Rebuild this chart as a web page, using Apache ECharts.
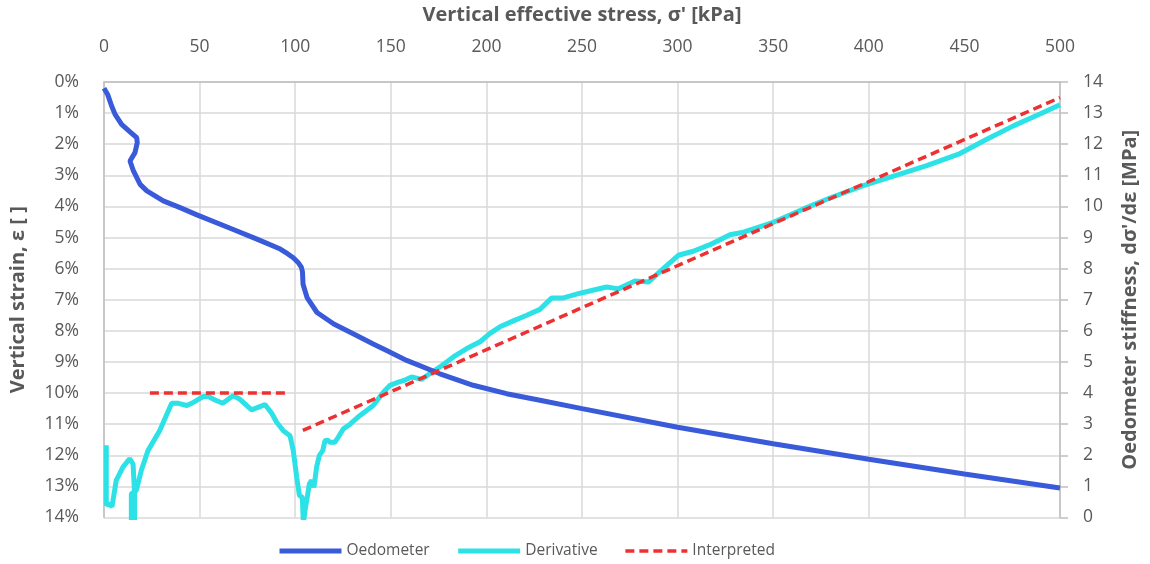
<!DOCTYPE html>
<html>
<head>
<meta charset="utf-8">
<script src="https://cdn.jsdelivr.net/npm/echarts@6/dist/echarts.min.js"></script>
<style>
  html, body { margin: 0; padding: 0; background: #ffffff; }
  #chart { width: 1150px; height: 564px; }
</style>
</head>
<body>
<div id="chart"></div>
<script>
// Oedometer test: strain (%) against vertical effective stress (kPa)
const oedometer = [
  [0, 0.2], [1.9, 0.4], [4.0, 0.77], [5.8, 1.04], [9.2, 1.36], [13.6, 1.6],
  [17.1, 1.79], [17.4, 1.95], [16.2, 2.27], [13.6, 2.54], [15.4, 2.86],
  [18.9, 3.29], [22.4, 3.5], [31, 3.82], [39.8, 4.04], [48.6, 4.27], [66, 4.7],
  [80, 5.05], [92.2, 5.37], [96, 5.52], [99, 5.65], [101.5, 5.8], [103.2, 5.95],
  [103.8, 6.1], [104.1, 6.5], [106.2, 6.93], [111.4, 7.41], [120.2, 7.78],
  [130.6, 8.1], [140.8, 8.42], [148.1, 8.64], [158.3, 8.95], [175.7, 9.38],
  [193.1, 9.75], [210.6, 10.02], [228, 10.23], [250, 10.5], [300, 11.1],
  [350, 11.63], [400, 12.13], [450, 12.6], [500, 13.05]
];

// Tangent stiffness dσ'/dε (MPa) against stress (kPa)
const derivative = [
  [1.2, 2.32], [1.2, 0.39], [2.4, 0.44], [4.2, 0.35], [6.4, 1.19], [9.9, 1.62],
  [13.4, 1.89], [15.2, 1.72], [16.0, 0.76], [16.0, -0.5], [14.3, -0.5],
  [14.3, 0.76], [16.9, 0.87], [19.5, 1.51], [23.0, 2.15], [29.1, 2.79],
  [35.4, 3.67], [38.9, 3.67], [43.3, 3.6], [46.7, 3.7], [51.9, 3.89],
  [54.5, 3.89], [58.1, 3.78], [62.1, 3.67], [67.6, 3.92], [71.1, 3.8],
  [77.2, 3.46], [84.2, 3.63], [87.7, 3.35], [90.3, 3.06], [93.8, 2.79],
  [97.3, 2.63], [99.0, 2.15], [100.8, 1.29], [102.2, 0.71], [103.7, 0.65],
  [104.3, -0.2], [105.1, 0.22], [106.3, 0.65], [107.4, 1.08], [108.6, 1.19],
  [109.8, 0.97], [111.2, 1.62], [112.6, 1.99], [114.4, 2.15], [115.6, 2.47],
  [116.8, 2.49], [118.2, 2.42], [120.8, 2.42], [122.5, 2.58], [125.2, 2.85],
  [128.7, 3.0], [133.9, 3.28], [140.8, 3.6], [146.1, 4.03], [149.6, 4.25],
  [153.9, 4.35], [157.4, 4.42], [160.9, 4.52], [166.1, 4.44], [170.5, 4.63],
  [175.7, 4.84], [182.7, 5.16], [189.7, 5.43], [196.7, 5.65], [201.9, 5.92],
  [207.1, 6.13], [214.1, 6.32], [221.1, 6.5], [228, 6.69], [234.2, 7.06],
  [240.3, 7.06], [249, 7.21], [262.9, 7.41], [269, 7.35], [277.7, 7.6],
  [284.7, 7.57], [292.5, 8.0], [300.4, 8.43], [308.2, 8.56], [316.9, 8.77],
  [327.4, 9.09], [334.4, 9.17], [350.1, 9.49], [365.8, 9.92], [379.7, 10.27],
  [397.1, 10.67], [416.3, 11.04], [430.3, 11.31], [447.7, 11.7],
  [461.7, 12.16], [475.6, 12.59], [489.5, 12.97], [500, 13.27]
];

// Interpreted stiffness: constant below yield, linear above
const interpretedLow = [[24, 4.0], [97, 4.0]];
const interpretedHigh = [[104, 2.8], [500, 13.5]];

const stressTicks = { min: 0, max: 500, step: 50 };
const strainTicks = { min: 0, max: 14, step: 1 };
const stiffnessTicks = { min: 0, max: 14, step: 1 };

const FONT = '"Open Sans", "Noto Sans", sans-serif';
const TEXT = '#595959';
const GRID = '#d9d9d9';
const AXIS = '#bfbfbf';
const BLUE = '#3a5bd9';
const CYAN = '#2de2e6';
const RED = '#ee3030';
const DASH = [9, 5];

const titleStyle = { fontFamily: FONT, fontSize: 20, fontWeight: 'bold', color: TEXT };
const tickStyle = { fontSize: 17.5, color: TEXT, fontFamily: FONT };

const chart = echarts.init(document.getElementById('chart'), null, { renderer: 'canvas' });

chart.setOption({
  animation: false,
  backgroundColor: '#ffffff',
  textStyle: { fontFamily: FONT, color: TEXT },
  grid: { left: 104, right: 90, top: 81, bottom: 46.5, containLabel: false },
  legend: {
    left: 272,
    top: 538,
    itemWidth: 62,
    itemHeight: 14,
    itemGap: 26,
    itemStyle: { opacity: 0 },
    lineStyle: { width: 'inherit' },
    textStyle: { fontFamily: FONT, fontSize: 15.5, color: TEXT },
    data: ['Oedometer', 'Derivative', 'Interpreted']
  },
  xAxis: {
    type: 'value',
    position: 'top',
    min: stressTicks.min,
    max: stressTicks.max,
    interval: stressTicks.step,
    name: "Vertical effective stress, σ' [kPa]",
    nameLocation: 'middle',
    nameGap: 57,
    nameTextStyle: titleStyle,
    axisLine: { show: true, lineStyle: { color: AXIS, width: 1.5 } },
    axisTick: { show: false },
    axisLabel: Object.assign({ margin: 26 }, tickStyle),
    splitLine: { show: true, lineStyle: { color: GRID, width: 1.5 } }
  },
  yAxis: [
    {
      type: 'value',
      position: 'left',
      inverse: true,
      min: strainTicks.min,
      max: strainTicks.max,
      interval: strainTicks.step,
      name: 'Vertical strain, ε [ ]',
      nameLocation: 'middle',
      nameGap: 76,
      nameTextStyle: titleStyle,
      axisLine: { show: true, lineStyle: { color: AXIS, width: 1.5 } },
      axisTick: { show: false },
      axisLabel: Object.assign({ margin: 25, formatter: '{value}%' }, tickStyle),
      splitLine: { show: true, lineStyle: { color: GRID, width: 1.5 } }
    },
    {
      type: 'value',
      position: 'right',
      min: stiffnessTicks.min,
      max: stiffnessTicks.max,
      interval: stiffnessTicks.step,
      name: "Oedometer stiffness, dσ'/dε [MPa]",
      nameLocation: 'middle',
      nameGap: 60,
      nameTextStyle: titleStyle,
      axisLine: { show: true, lineStyle: { color: AXIS, width: 1.5 } },
      axisTick: { show: true, inside: false, length: 8, lineStyle: { color: AXIS, width: 1.5 } },
      axisLabel: Object.assign({ margin: 23 }, tickStyle),
      splitLine: { show: false }
    }
  ],
  series: [
    {
      name: 'Oedometer',
      type: 'line',
      yAxisIndex: 0,
      data: oedometer,
      showSymbol: false,
      symbol: 'none',
      clip: true,
      color: BLUE,
      lineStyle: { color: BLUE, width: 5 },
      z: 3
    },
    {
      name: 'Derivative',
      type: 'line',
      yAxisIndex: 1,
      data: derivative,
      showSymbol: false,
      symbol: 'none',
      clip: true,
      color: CYAN,
      lineStyle: { color: CYAN, width: 5 },
      z: 2
    },
    {
      name: 'Interpreted',
      type: 'line',
      yAxisIndex: 1,
      data: interpretedLow,
      showSymbol: false,
      symbol: 'none',
      clip: true,
      color: RED,
      lineStyle: { color: RED, width: 3.5, type: DASH },
      z: 4
    },
    {
      name: 'Interpreted',
      type: 'line',
      yAxisIndex: 1,
      data: interpretedHigh,
      showSymbol: false,
      symbol: 'none',
      clip: true,
      color: RED,
      lineStyle: { color: RED, width: 3.5, type: DASH },
      z: 4
    }
  ]
});
</script>
</body>
</html>
